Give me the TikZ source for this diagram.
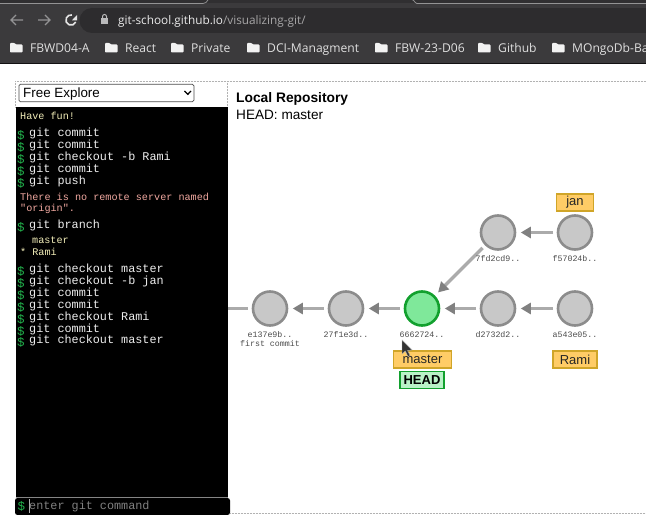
\documentclass[tikz,border=0pt]{standalone}
\usepackage{fontspec}
\setmainfont{Liberation Sans}
\newfontfamily\ubuntufont{Open Sans}
\newfontfamily\termfont{Liberation Mono}
\usetikzlibrary{arrows.meta}
\definecolor{chrome}{HTML}{3B3A3C}
\definecolor{chromedark}{HTML}{302F31}
\definecolor{urlbar}{HTML}{2D2C2E}
\definecolor{cmdgreen}{HTML}{22B14C}
\definecolor{cmdtext}{HTML}{EDEDED}
\definecolor{infotext}{HTML}{F2EDB8}
\definecolor{errtext}{HTML}{F0A8A0}
\definecolor{commitfill}{HTML}{C8C8C8}
\definecolor{commitedge}{HTML}{8C8C8C}
\definecolor{headfill}{HTML}{7FE89A}
\definecolor{headedge}{HTML}{12A02E}
\definecolor{branchfill}{HTML}{FFCC66}
\definecolor{branchedge}{HTML}{D0A528}
\definecolor{linkgray}{HTML}{ABABAB}
\definecolor{tipgray}{HTML}{808080}
\tikzset{
  x=1pt,y=-1pt,
  commit/.style={circle,draw=commitedge,fill=commitfill,line width=2.6pt,minimum size=34pt,inner sep=0pt},
  headcommit/.style={commit,draw=headedge,fill=headfill},
  link/.style={draw=linkgray,line width=3.4pt,-{Triangle[length=10pt,width=11pt,color=tipgray]},shorten <=3.5pt,shorten >=4.5pt},
  sha/.style={font=\termfont\fontsize{8.3}{9}\selectfont,text=black!70,inner sep=0pt},
  branchtag/.style={draw=branchedge,fill=branchfill,line width=1.3pt,inner sep=0pt,minimum height=17pt,font=\fontsize{13}{14}\selectfont,text=black!85},
  headtag/.style={draw=headedge,fill=headfill!55,line width=1.3pt,inner sep=0pt,minimum height=17pt,minimum width=44pt,font=\bfseries\fontsize{13}{14}\selectfont},
  cmdline/.style={anchor=west,inner sep=0pt,text=cmdtext,font=\termfont\fontsize{11.8}{12}\selectfont},
  dollar/.style={anchor=west,inner sep=0pt,text=cmdgreen,font=\termfont\fontsize{12.5}{13}\selectfont},
  infoline/.style={anchor=west,inner sep=0pt,text=infotext,font=\termfont\fontsize{10.15}{11}\selectfont},
  errline/.style={infoline,text=errtext},
  bookmark/.style={anchor=base west,inner sep=0pt,text=white!88!black,font=\ubuntufont\fontsize{12.1}{13}\selectfont},
  folder/.style={fill=white!95!black,rounded corners=0.8},
  dots/.style={draw=black!30,line width=0.5pt,densely dotted},
}
\newcommand{\foldericon}[2]{%
  \fill[folder] (#1,#2-5) -- (#1+4.5,#2-5) -- (#1+6,#2-3.5) -- (#1+12.5,#2-3.5) -- (#1+12.5,#2+4.5) -- (#1,#2+4.5) -- cycle;}
\begin{document}
\begin{tikzpicture}
\useasboundingbox (0,0) rectangle (646,521);
\fill[white] (0,0) rectangle (646,521);
% browser chrome
\fill[chrome] (0,0) rectangle (646,64);
\fill[chromedark] (0,0) rectangle (646,3.5);
\draw[white!45!chrome,line width=0.7pt] (0,3.5) -- (203,3.5) to[out=0,in=-120] (208,0);
\draw[white!45!chrome,line width=0.7pt] (412,0) to[out=60,in=180] (417,3.5) -- (646,3.5);
\fill[black!70!chrome] (0,63.2) rectangle (646,64);
\fill[urlbar] (92,8) rectangle (646,33);
\fill[urlbar] (92,20.5) circle[radius=12.5];
% nav icons
\draw[white!45!chrome,line width=1.3pt] (11,20) -- (23,20) (16,15) -- (11,20) -- (16,25);
\draw[white!45!chrome,line width=1.3pt] (38,20) -- (50,20) (45,15) -- (50,20) -- (45,25);
\draw[white!90!black,line width=1.6pt] (75.7,22) arc[start angle=23,end angle=280,radius=5.1];
\fill[white!90!black] (77,15) -- (77,20.5) -- (71.8,20.5) -- cycle;
% lock
\fill[white!65!chrome] (101,18) rectangle (108,24);
\draw[white!65!chrome,line width=1pt] (102.5,18) -- (102.5,16.5) arc[start angle=180,end angle=360,radius=2] -- (106.5,18);
\node[anchor=base west,inner sep=0pt,font=\ubuntufont\fontsize{11.8}{13}\selectfont,text=white!92!black] (url) at (118,25) {git-school.github.io\textcolor{white!55!chrome}{/visualizing-git/}};
% bookmarks
\foldericon{10}{48}
\node[bookmark] (b1) at (30,52.5) {FBWD04-A};
\foldericon{105}{48}
\node[bookmark] (b2) at (125,52.5) {React};
\foldericon{171}{48}
\node[bookmark] (b3) at (191,52.5) {Private};
\foldericon{247}{48}
\node[bookmark] (b4) at (267,52.5) {DCI-Managment};
\foldericon{375}{48}
\node[bookmark] (b5) at (395,52.5) {FBW-23-D06};
\foldericon{478}{48}
\node[bookmark] (b6) at (498,52.5) {Github};
\foldericon{552}{48}
\node[bookmark] (b7) at (572,52.5) {MOngoDb-Ba};
% panel outlines
\draw[dots] (15,81.2) -- (646,81.2);
\draw[dots] (227.5,81.2) -- (227.5,498);
\draw[dots] (15,81.2) -- (15,108);
\draw[dots] (230,513.5) -- (646,513.5);
% terminal
\fill[black] (15.5,107) rectangle (228,497);
\draw[black!40,line width=0.8pt] (15.5,497.5) -- (228,497.5);
\fill[black,rounded corners=2.5] (15,498) rectangle (230,515);
% dropdown
\node[draw=black!70,fill=white,rounded corners=1.5,line width=0.8pt,minimum width=175pt,minimum height=17.5pt,inner sep=0pt,anchor=west] (select) at (18.5,93) {};
\node[anchor=base west,inner sep=0pt,font=\fontsize{13.4}{15}\selectfont,text=black] (seltext) at (23,98) {Free Explore};
\draw[black,line width=1.3pt] (184.5,91) -- (187.8,94.3) -- (191,91);
% terminal text
\node[infoline] (t0) at (20,116) {Have fun!};
\foreach \y/\txt/\nm in {133/git commit/c1,145/git commit/c2,157/git checkout -b Rami/c3,169/git commit/c4,181/git push/c5,225/git branch/c6,269/git checkout master/c7,281/git checkout -b jan/c8,293/git commit/c9,305/git commit/c10,317/git checkout Rami/c11,329/git commit/c12,340/git checkout master/c13}{
  \node[cmdline] (\nm) at (29,\y) {\txt};
  \node[dollar] (d\nm) at (17,\y+2) {\$};
}
\node[errline] (e1) at (20,197) {There is no remote server named};
\node[errline] (e2) at (20,209) {"origin".};
\node[infoline] (m1) at (32,240) {master};
\node[infoline] (m2) at (20,252) {* Rami};
% input
\node[dollar] (pr) at (17.5,506) {\$};
\draw[white!70!black,line width=0.8pt] (29,499.5) -- (29,513);
\node[cmdline,text=black!50!white] (input) at (29,506) {enter git command};
% repository heading
\node[anchor=base west,inner sep=0pt,font=\bfseries\fontsize{13.8}{16}\selectfont] (title) at (236,103) {Local Repository};
\node[anchor=base west,inner sep=0pt,font=\fontsize{13.6}{16}\selectfont] (headinfo) at (236,120) {HEAD: master};
% commits
\node[commit] (e137) at (270,308.5) {};
\node[commit] (c27f) at (346,308.5) {};
\node[headcommit] (c666) at (422,308.5) {};
\node[commit] (d273) at (498,308.5) {};
\node[commit] (a543) at (575,308.5) {};
\node[commit] (c7fd) at (498,232.5) {};
\node[commit] (f570) at (575,232.5) {};
\coordinate (past) at (228,308.5);
% links
\draw[draw=linkgray,line width=3.4pt,shorten >=3.5pt] (past) -- (e137);
\draw[link] (c27f) -- (e137);
\draw[link] (c666) -- (c27f);
\draw[link] (d273) -- (c666);
\draw[link] (a543) -- (d273);
\draw[link] (f570) -- (c7fd);
\draw[link] (c7fd) -- (c666);
% shas
\node[sha] (s1) at (270,335) {e137e9b..};
\node[sha] (s1b) at (270,343.5) {first commit};
\node[sha] (s2) at (346,335) {27f1e3d..};
\node[sha] (s3) at (422,335) {6662724..};
\node[sha] (s4) at (498,335) {d2732d2..};
\node[sha] (s5) at (575,335) {a543e05..};
\node[sha] (s6) at (498,258.5) {7fd2cd9..};
\node[sha] (s7) at (575,258.5) {f57024b..};
% tags
\node[branchtag,minimum width=58pt] (master) at (422.5,359.5) {master};
\node[headtag] (head) at (422,380) {HEAD};
\node[branchtag,minimum width=44pt,minimum height=17pt] (rami) at (575,359.5) {Rami};
\node[branchtag,minimum width=37pt] (jan) at (575,202.5) {jan};
% mouse pointer
\fill[black!80,draw=white!70!black,line width=0.4pt] (402,340) -- (402,354) -- (405.3,351) -- (408,356.5) -- (410,355.5) -- (407.5,350.5) -- (412,350) -- cycle;
\end{tikzpicture}
\end{document}
